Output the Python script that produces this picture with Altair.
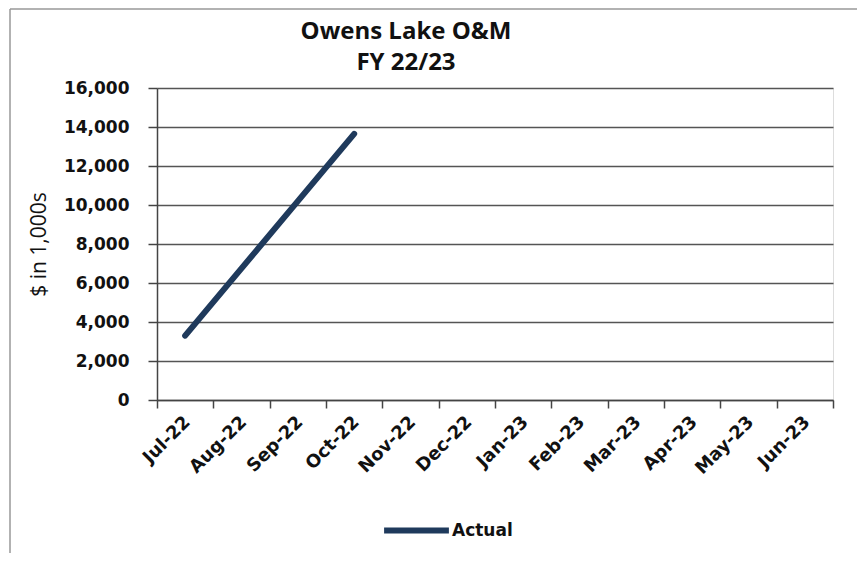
import altair as alt
import pandas as pd

months = ["Jul-22", "Aug-22", "Sep-22", "Oct-22", "Nov-22", "Dec-22",
          "Jan-23", "Feb-23", "Mar-23", "Apr-23", "May-23", "Jun-23"]
actual_months = ["Jul-22", "Aug-22", "Sep-22", "Oct-22"]
actual_values = [3300, 6750, 10200, 13650]
series_name = "Actual"
title_lines = ["Owens Lake O&M", "FY 22/23"]

df = pd.DataFrame({"month": actual_months, "value": actual_values,
                   "series": [series_name] * len(actual_months)})

line = alt.Chart(df).mark_line(strokeWidth=6, strokeCap="round").encode(
    x=alt.X("month:N", sort=months, scale=alt.Scale(domain=months, paddingInner=0, paddingOuter=0),
            axis=alt.Axis(title=None, labelAngle=-45, labelAlign="right", labelBaseline="middle",
                          labelFont="DejaVu Sans", labelFontSize=18, labelFontWeight="bold",
                          labelColor="#111", labelPadding=11, tickBand="extent", tickSize=8,
                          tickColor="#444", domainColor="#444", domainWidth=1.5, tickWidth=1.5,
                          labelOffset=2, grid=False)),
    y=alt.Y("value:Q", scale=alt.Scale(domain=[0, 16000]),
            axis=alt.Axis(title="$ in 1,000s", values=list(range(0, 16001, 2000)), format=",d",
                          labelFont="DejaVu Sans", labelFontSize=17, labelFontWeight="bold", labelColor="#111",
                          tickSize=9, tickColor="#444", tickWidth=1.5, domainColor="#444", domainWidth=1.5,
                          gridColor="#555", gridWidth=1.5, labelPadding=19,
                          titleFont="Open Sans", titleFontSize=21, titleFontWeight="normal", titleColor="#111",
                          titleX=-118, titleY=156, titleAngle=-90, titleAlign="center",
                          titleBaseline="middle")),
    color=alt.Color("series:N", scale=alt.Scale(range=["#1f3a5c"]),
                    legend=alt.Legend(title=None, orient="none", legendX=224, legendY=407,
                                      symbolType="stroke", symbolSize=4200, symbolStrokeWidth=6,
                                      labelFont="DejaVu Sans", labelFontSize=17, labelFontWeight="bold",
                                      labelColor="#111", labelOffset=0))
)

frame_df = pd.DataFrame({"k": [0]})
frame_top = alt.Chart(frame_df).mark_rule(color="#999", strokeWidth=1.5, clip=False).encode(
    x=alt.value(-147), x2=alt.value(700), y=alt.value(-79))
frame_left = alt.Chart(frame_df).mark_rule(color="#999", strokeWidth=1.5, clip=False).encode(
    x=alt.value(-147), y=alt.value(-79), y2=alt.value(470))

title_df = pd.DataFrame({"text": title_lines, "row": [0, 1]})
title1 = alt.Chart(title_df).transform_filter("datum.row == 0").mark_text(
    font="Open Sans", fontSize=24, fontWeight="bold", color="#111", align="center", baseline="middle",
    clip=False).encode(text="text:N", x=alt.value(249), y=alt.value(-56))
title2 = alt.Chart(title_df).transform_filter("datum.row == 1").mark_text(
    font="Open Sans", fontSize=24, fontWeight="bold", color="#111", align="center", baseline="middle",
    clip=False).encode(text="text:N", x=alt.value(249), y=alt.value(-25))

chart = alt.layer(frame_top, frame_left, title1, title2, line).properties(
    width=676, height=312,
    autosize=alt.AutoSizeParams(type="none"),
    padding={"left": 149, "top": 80, "right": 25, "bottom": 153},
).configure_view(stroke=None).configure(background="white")

chart.save("out.html", embed_options={"renderer": "svg", "actions": False})
